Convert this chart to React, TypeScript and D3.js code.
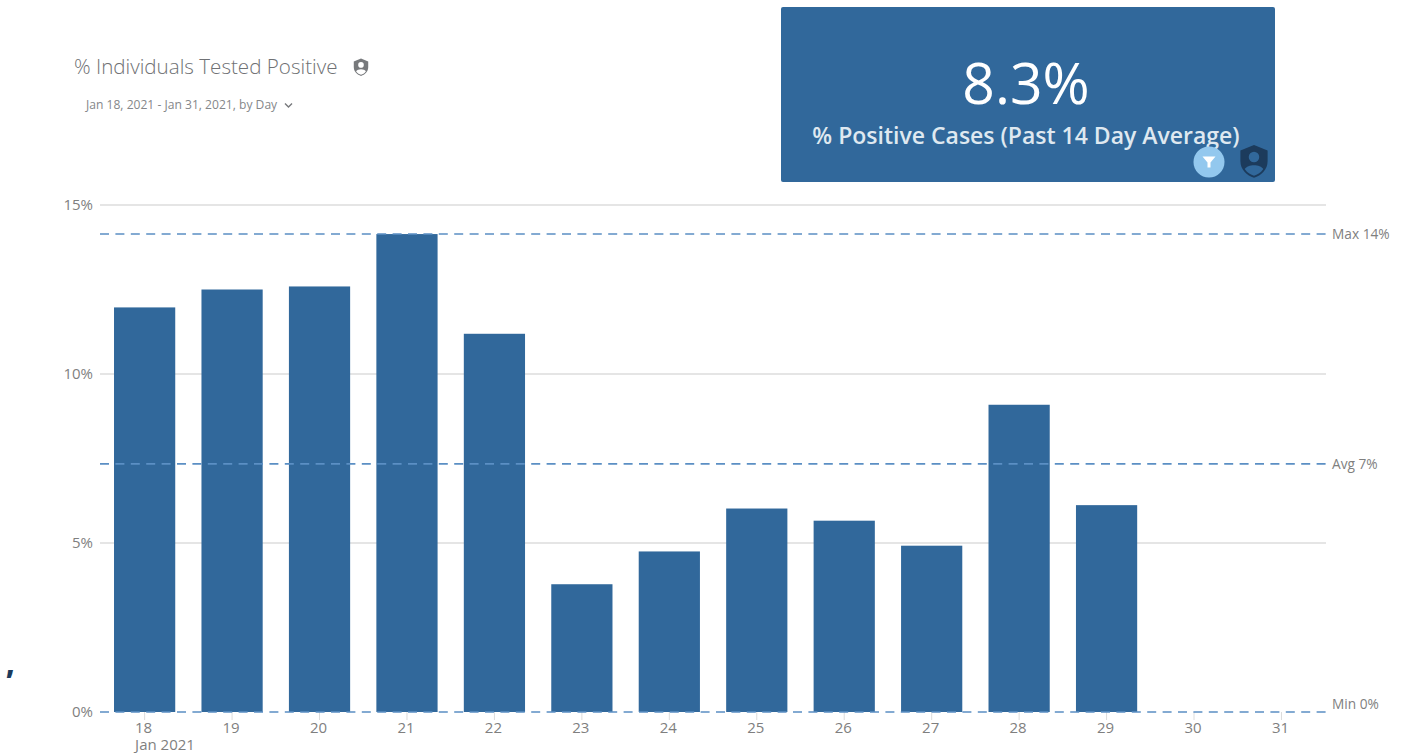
import React from "react";
import * as d3 from "d3";

const days = ["18","19","20","21","22","23","24","25","26","27","28","29","30","31"];
const positives: (number | null)[] = [11.97,12.5,12.59,14.14,11.19,3.78,4.75,6.02,5.66,4.92,9.09,6.12,null,null];
const yTicks = [0,5,10,15];
const refLines = [
  { label: "Max 14%", value: 14.14, dy: 0 },
  { label: "Avg 7%", value: 7.34, dy: 0 },
  { label: "Min 0%", value: 0, dy: -8 },
];
const title = "% Individuals Tested Positive";
const subtitle = "Jan 18, 2021 - Jan 31, 2021, by Day";
const kpiValue = "8.3%";
const kpiLabel = "% Positive Cases (Past 14 Day Average)";

const FONT = "'Open Sans', sans-serif";
const BLUE = "#31689b";

function PersonShield({ x, y, s, fill, cut }: { x: number; y: number; s: number; fill: string; cut: string }) {
  return (
    <g transform={`translate(${x},${y}) scale(${s})`}>
      <path d="M0,-10 L8.5,-6.5 V0 C8.5,5.5 4.5,9 0,10.5 C-4.5,9 -8.5,5.5 -8.5,0 V-6.5 Z" fill={fill} />
      <circle cx={0} cy={-2.5} r={3.3} fill={cut} />
      <path d="M-5.8,5 C-4,1.8 4,1.8 5.8,5 C4,7.6 2,8.6 0,9.2 C-2,8.6 -4,7.6 -5.8,5 Z" fill={cut} />
    </g>
  );
}

export default function App() {
  const x = d3.scaleBand<string>().domain(days).range([100.9, 1325.2]).paddingInner(0.3).paddingOuter(0.15);
  const y = d3.scaleLinear().domain([0, 15]).range([712, 205]);
  const gridLeft = 100;
  const gridRight = 1326;
  const textGrey = "#7f7f7f";

  return (
    <svg width={1401} height={753} style={{ position: "absolute", left: 0, top: 0, fontFamily: FONT }}>
      <rect width={1401} height={753} fill="#ffffff" />

      <text x={74} y={74} fontSize={20.6} fontWeight={300} fill="#6f7174">{title}</text>
      <PersonShield x={361} y={67} s={0.85} fill="#77797c" cut="#ffffff" />
      <text x={86} y={109} fontSize={12.1} fill="#85878a">{subtitle}</text>
      <path d="M285,103.5 L288.5,107 L292,103.5" fill="none" stroke="#77797c" strokeWidth={1.4} />

      <rect x={781} y={7} width={494} height={175} rx={2} fill={BLUE} />
      <text x={1026} y={104} textAnchor="middle" fontSize={57} fill="#ffffff">{kpiValue}</text>
      <text x={1026} y={144} textAnchor="middle" fontSize={23} fontWeight={600} fill="#dfe8f0">{kpiLabel}</text>
      <circle cx={1209} cy={162} r={15.5} fill="#93c8ee" />
      <path d="M1202.5,156.5 H1215.5 L1210.5,162.5 V167.5 H1207.5 V162.5 Z" fill="#ffffff" />
      <PersonShield x={1254} y={161} s={1.6} fill="#1c3b5c" cut={BLUE} />

      {yTicks.map((t) => (
        <g key={t}>
          {t > 0 && <line x1={gridLeft} x2={gridRight} y1={y(t)} y2={y(t)} stroke="#dcdcdc" strokeWidth={1.5} />}
          <text x={93} y={y(t) + 5} textAnchor="end" fontSize={15} fill={textGrey}>{t}%</text>
        </g>
      ))}

      {days.map((d) => (
        <g key={d}>
          <line x1={x(d)! + x.bandwidth() / 2} x2={x(d)! + x.bandwidth() / 2} y1={712} y2={720} stroke="#dcdcdc" />
          <text x={x(d)! + x.bandwidth() / 2 - 1} y={733} textAnchor="middle" fontSize={15} fill={textGrey}>{d}</text>
        </g>
      ))}
      <text x={165} y={750} textAnchor="middle" fontSize={15} fill={textGrey}>Jan 2021</text>

      {positives.map((v, i) =>
        v === null ? null : (
          <rect key={days[i]} x={x(days[i])} y={y(v)} width={x.bandwidth()} height={y(0) - y(v)} fill={BLUE} />
        )
      )}

      {refLines.map((r) => (
        <g key={r.label}>
          <line x1={gridLeft} x2={gridRight} y1={y(r.value)} y2={y(r.value)} stroke="#5b8fc4" strokeWidth={1.6} strokeDasharray="9 6.4" />
          <text x={1332} y={y(r.value) + 5 + r.dy} fontSize={13.7} fill={textGrey}>{r.label}</text>
        </g>
      ))}

      <text x={6} y={674} fontSize={28} fontWeight={800} fill="#1c3b5c">,</text>
    </svg>
  );
}
